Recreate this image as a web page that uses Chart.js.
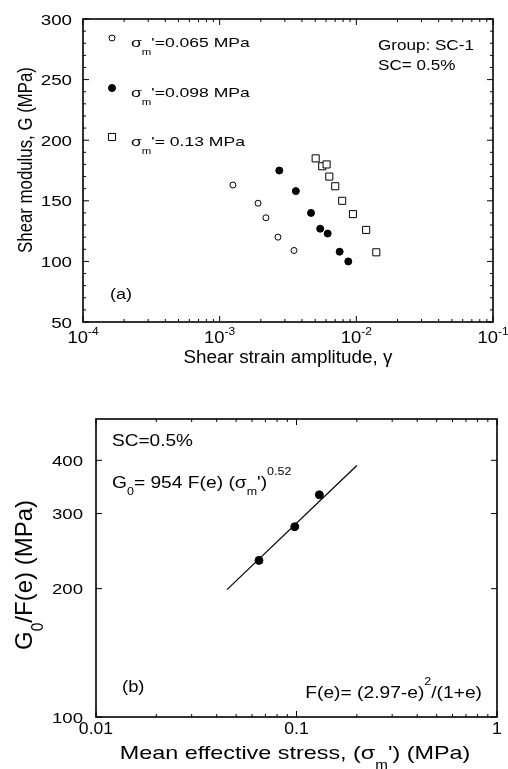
<!DOCTYPE html>
<html>
<head>
<meta charset="utf-8">
<script src="https://cdn.jsdelivr.net/npm/chart.js@4.4.0/dist/chart.umd.min.js"></script>
<style>
  html, body { margin: 0; padding: 0; background: #fff; }
  body { width: 508px; height: 769px; position: relative; overflow: hidden; }
  canvas { position: absolute; left: 0; }
  #chartA { top: 0; }
  #chartB { top: 384px; }
</style>
</head>
<body>
<canvas id="chartA" width="508" height="384"></canvas>
<canvas id="chartB" width="508" height="385"></canvas>
<script>
// (a) shear modulus vs strain amplitude
const strain065 = [1.25e-3, 1.91e-3, 2.18e-3, 2.67e-3, 3.50e-3];
const g065 = [163, 148, 136, 120, 109];
const strain098 = [2.73e-3, 3.61e-3, 4.66e-3, 5.44e-3, 6.17e-3, 7.55e-3, 8.73e-3];
const g098 = [175, 158, 140, 127, 123, 108, 100];
const strain13 = [5.04e-3, 5.63e-3, 6.06e-3, 6.34e-3, 7.01e-3, 7.88e-3, 9.44e-3, 1.18e-2, 1.40e-2];
const g13 = [185, 178.5, 180, 170, 162, 150, 139, 126, 107.5];
const strainTicks = [1e-4, 1e-3, 1e-2, 1e-1];
const strainTickExp = ['-4', '-3', '-2', '-1'];
const gTicks = [50, 100, 150, 200, 250, 300];

// (b) normalised G0 vs mean effective stress
const stress = [0.065, 0.098, 0.13];
const g0fe = [233, 279.5, 332];
const fitStress = [0.045, 0.2];
const fitG0fe = [199, 389];
const stressTicks = [0.01, 0.1, 1];
const stressTickLabels = ['0.01', '0.1', '1'];
const g0feTicks = [100, 200, 300, 400];

const FONT = '"Liberation Sans", Arial, sans-serif';
const pts = (xs, ys) => xs.map((x, i) => ({ x, y: ys[i] }));

// text with sub/superscripts; parts: 'text' or ['text', 'sub'|'sup']
function richText(ctx, x, y, parts, o) {
  const size = o.size, k = o.k || 1;
  const small = size * (o.small || 0.65);
  const segs = parts.map(p => {
    const t = Array.isArray(p) ? p[0] : p;
    const kind = Array.isArray(p) ? p[1] : '';
    const s = kind ? small : size;
    ctx.font = s + 'px ' + FONT;
    return { t, kind, s, w: ctx.measureText(t).width };
  });
  const total = segs.reduce((a, g) => a + g.w, 0);
  ctx.save();
  ctx.translate(x, y);
  if (o.rot) ctx.rotate(o.rot);
  ctx.scale(k, 1);
  ctx.fillStyle = '#000';
  ctx.textAlign = 'left';
  ctx.textBaseline = 'alphabetic';
  let cx = o.align === 'center' ? -total / 2 : o.align === 'right' ? -total : 0;
  for (const g of segs) {
    ctx.font = g.s + 'px ' + FONT;
    const dy = g.kind === 'sub' ? size * (o.subDy ?? 0.5)
      : g.kind === 'sup' ? -size * (o.supDy ?? 0.5) : 0;
    ctx.fillText(g.t, cx, dy);
    cx += g.w;
  }
  ctx.restore();
}

const logMinors = majors => {
  const out = [];
  for (let i = 0; i < majors.length - 1; i++)
    for (let m = 2; m <= 9; m++) out.push(majors[i] * m);
  return out;
};

// box + inward ticks on all four sides
const frame = (xMajor, xMinor, yMajor, yMinor) => ({
  id: 'frame',
  afterDatasetsDraw(chart) {
    const { ctx, chartArea: a, scales: { x, y } } = chart;
    ctx.save();
    ctx.strokeStyle = '#000';
    ctx.lineWidth = 1;
    const seg = (x1, y1, x2, y2) => { ctx.beginPath(); ctx.moveTo(x1, y1); ctx.lineTo(x2, y2); ctx.stroke(); };
    const tx = (v, len) => { const p = x.getPixelForValue(v); seg(p, a.bottom, p, a.bottom - len); seg(p, a.top, p, a.top + len); };
    const ty = (v, len) => { const p = y.getPixelForValue(v); seg(a.left, p, a.left + len, p); seg(a.right, p, a.right - len, p); };
    xMajor.forEach(v => tx(v, 6));
    xMinor.forEach(v => tx(v, 3));
    yMajor.forEach(v => ty(v, 6));
    yMinor.forEach(v => ty(v, 3));
    ctx.lineWidth = 1.6;
    ctx.strokeRect(a.left, a.top, a.right - a.left, a.bottom - a.top);
    ctx.restore();
  }
});

const hiddenScale = (type, min, max, size, horizontal) => ({
  type, min, max,
  ticks: { display: false },
  grid: { display: false, drawTicks: false },
  border: { display: false },
  afterFit: s => { if (horizontal) s.height = size; else s.width = size; }
});

const gMinor = [];
for (let v = 60; v < 300; v += 10) if (v % 50) gMinor.push(v);

// ---------- chart (a) ----------
new Chart(document.getElementById('chartA'), {
  type: 'scatter',
  data: {
    datasets: [
      { label: "0.065", data: pts(strain065, g065), pointStyle: 'circle', pointRadius: 3,
        backgroundColor: '#fff', borderColor: '#000', borderWidth: 1 },
      { label: "0.098", data: pts(strain098, g098), pointStyle: 'circle', pointRadius: 3.5,
        backgroundColor: '#000', borderColor: '#000', borderWidth: 1 },
      { label: "0.13", data: pts(strain13, g13), pointStyle: 'rect', pointRadius: 5,
        backgroundColor: '#fff', borderColor: '#000', borderWidth: 1 }
    ]
  },
  options: {
    responsive: false,
    animation: false,
    devicePixelRatio: 1,
    layout: { padding: { top: 19, right: 15, left: 0, bottom: 0 } },
    plugins: { legend: { display: false }, tooltip: { enabled: false } },
    scales: {
      x: hiddenScale('logarithmic', 1e-4, 1e-1, 62, true),
      y: hiddenScale('linear', 50, 300, 83, false)
    }
  },
  plugins: [
    frame(strainTicks, logMinors(strainTicks), gTicks, gMinor),
    {
      id: 'textA',
      afterDraw(chart) {
        const { ctx, scales: { x, y } } = chart;
        gTicks.forEach(v => richText(ctx, 72, y.getPixelForValue(v) + 5.5, [String(v)],
          { size: 15, k: 1.25, align: 'right' }));
        strainTicks.forEach((v, i) => richText(ctx, x.getPixelForValue(v), 343,
          ['10', [strainTickExp[i], 'sup']], { size: 16, k: 1.15, align: 'center', supDy: 0.5 }));
        richText(ctx, 288, 363, ['Shear strain amplitude, γ'], { size: 18, k: 1.05, align: 'center' });
        richText(ctx, 32, 160, ['Shear modulus, G (MPa)'], { size: 21, k: 0.8, align: 'center', rot: -Math.PI / 2 });

        // legend
        const rows = [["'=0.065 MPa", 38], ["'=0.098 MPa", 88], ["'= 0.13 MPa", 137]];
        chart.data.datasets.forEach((ds, i) => {
          const cy = rows[i][1];
          ctx.save();
          ctx.lineWidth = 1;
          ctx.strokeStyle = '#000';
          ctx.fillStyle = ds.backgroundColor;
          ctx.beginPath();
          if (ds.pointStyle === 'rect') {
            const h = ds.pointRadius * Math.SQRT1_2;
            ctx.rect(112 - h, cy - h, 2 * h, 2 * h);
          } else {
            ctx.arc(112, cy, ds.pointRadius, 0, Math.PI * 2);
          }
          ctx.fill();
          ctx.stroke();
          ctx.restore();
          richText(ctx, 131, cy + 9, ['σ', ['m', 'sub'], rows[i][0]], { size: 13.5, k: 1.3, subDy: 0.57 });
        });

        richText(ctx, 378, 50, ['Group: SC-1'], { size: 14, k: 1.22 });
        richText(ctx, 378, 70, ['SC= 0.5%'], { size: 14, k: 1.22 });
        richText(ctx, 110, 299, ['(a)'], { size: 15, k: 1.2 });
      }
    }
  ]
});

// ---------- chart (b) ----------
const OFF = 384;
new Chart(document.getElementById('chartB'), {
  type: 'scatter',
  data: {
    datasets: [
      { data: pts(stress, g0fe), pointStyle: 'circle', pointRadius: 4,
        backgroundColor: '#000', borderColor: '#000', borderWidth: 1 },
      { type: 'line', data: pts(fitStress, fitG0fe), showLine: true, pointRadius: 0,
        borderColor: '#000', borderWidth: 1.2, fill: false }
    ]
  },
  options: {
    responsive: false,
    animation: false,
    devicePixelRatio: 1,
    layout: { padding: { top: 419 - OFF, right: 11, left: 0, bottom: 0 } },
    plugins: { legend: { display: false }, tooltip: { enabled: false } },
    scales: {
      x: hiddenScale('logarithmic', 0.01, 1, 385 - (717 - OFF), true),
      y: hiddenScale('logarithmic', 100, 500, 96, false)
    }
  },
  plugins: [
    frame(stressTicks, logMinors(stressTicks), g0feTicks, []),
    {
      id: 'textB',
      afterDraw(chart) {
        const { ctx, scales: { x, y } } = chart;
        g0feTicks.forEach(v => richText(ctx, 83, y.getPixelForValue(v) + 5.5, [String(v)],
          { size: 15.5, k: 1.2, align: 'right' }));
        stressTicks.forEach((v, i) => richText(ctx, x.getPixelForValue(v), 734 - OFF,
          [stressTickLabels[i]], { size: 16, k: 1.1, align: 'center' }));
        richText(ctx, 295, 759 - OFF, ['Mean effective stress, (σ', ['m', 'sub'], "') (MPa)"],
          { size: 19, k: 1.23, align: 'center', subDy: 0.55 });
        richText(ctx, 32, 575 - OFF, ['G', ['0', 'sub'], '/F(e) (MPa)'],
          { size: 24, k: 1, align: 'center', rot: -Math.PI / 2, subDy: 0.45 });

        richText(ctx, 112, 446 - OFF, ['SC=0.5%'], { size: 17, k: 1.12 });
        richText(ctx, 112, 488 - OFF, ['G', ['0', 'sub'], '= 954 F(e) (σ', ['m', 'sub'], "')", ['0.52', 'sup']],
          { size: 17, k: 1.13, subDy: 0.42, supDy: 0.75 });
        richText(ctx, 482, 698 - OFF, ['F(e)= (2.97-e)', ['2', 'sup'], '/(1+e)'],
          { size: 17, k: 1.13, align: 'right', supDy: 0.75 });
        richText(ctx, 122, 692 - OFF, ['(b)'], { size: 16, k: 1.15 });
      }
    }
  ]
});
</script>
</body>
</html>
